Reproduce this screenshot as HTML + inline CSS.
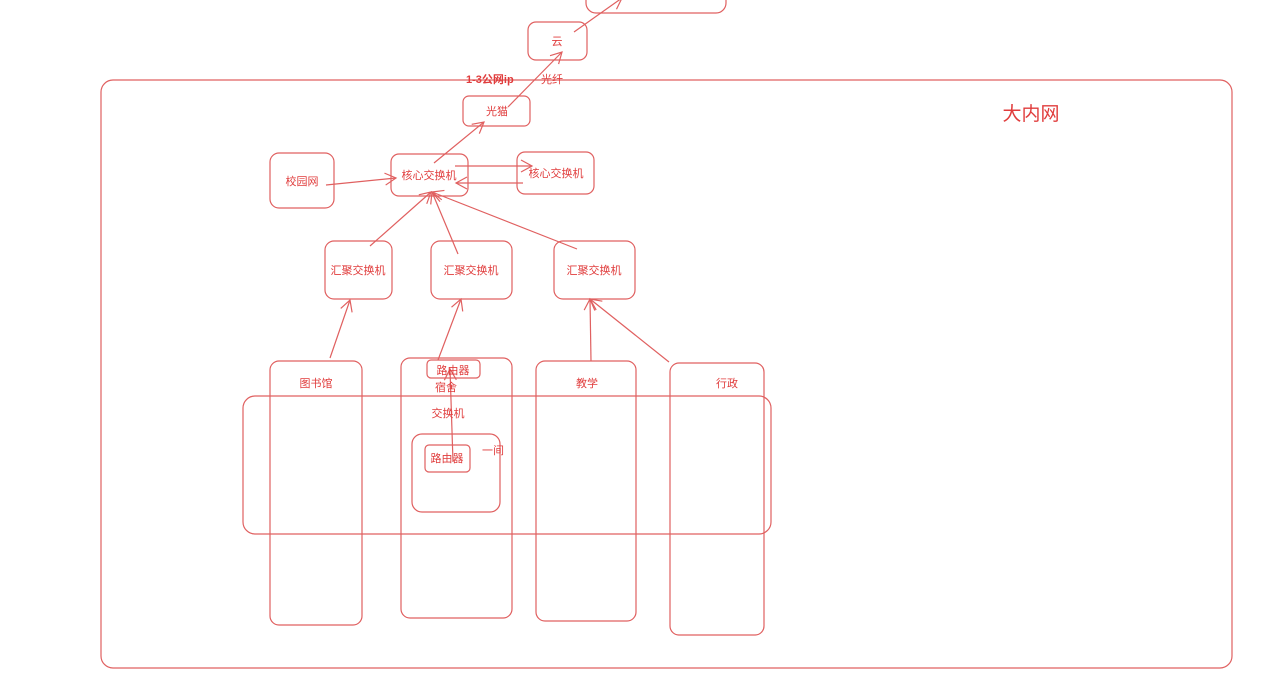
<!DOCTYPE html>
<html><head><meta charset="utf-8"><style>
html,body{margin:0;padding:0;background:#fff;width:1285px;height:696px;overflow:hidden}
text{font-family:"Liberation Sans","Noto Sans CJK SC",sans-serif;fill:#e03c3c}
</style></head><body>
<svg width="1285" height="696" viewBox="0 0 1285 696" xmlns="http://www.w3.org/2000/svg" font-size="11">
<defs>
<marker id="a" markerWidth="14" markerHeight="14" refX="12" refY="7" orient="auto" markerUnits="userSpaceOnUse">
<path d="M1,1 L12,7 L1,13" fill="none" stroke="#e06060" stroke-width="1.2"/>
</marker>
</defs>
<g fill="none" stroke="#e06060" stroke-width="1.2">
<rect x="586" y="-12" width="140" height="25" rx="10"/>
<rect x="528" y="22" width="59" height="38" rx="8"/>
<rect x="101" y="80" width="1131" height="588" rx="12"/>
<rect x="463" y="96" width="67" height="30" rx="6"/>
<rect x="270" y="153" width="64" height="55" rx="9"/>
<rect x="391" y="154" width="77" height="42" rx="8"/>
<rect x="517" y="152" width="77" height="42" rx="8"/>
<rect x="325" y="241" width="67" height="58" rx="9"/>
<rect x="431" y="241" width="81" height="58" rx="9"/>
<rect x="554" y="241" width="81" height="58" rx="9"/>
<rect x="270" y="361" width="92" height="264" rx="9"/>
<rect x="401" y="358" width="111" height="260" rx="9"/>
<rect x="536" y="361" width="100" height="260" rx="9"/>
<rect x="670" y="363" width="94" height="272" rx="9"/>
<rect x="243" y="396" width="528" height="138" rx="12"/>
<rect x="427" y="360" width="53" height="18" rx="4"/>
<rect x="412" y="434" width="88" height="78" rx="10"/>
<rect x="425" y="445" width="45" height="27" rx="4"/>
</g>
<g stroke="#e06060" stroke-width="1.2" marker-end="url(#a)">
<line x1="574" y1="32" x2="622" y2="-2"/>
<line x1="508" y1="107" x2="562" y2="52"/>
<line x1="434" y1="163" x2="484" y2="122"/>
<line x1="326" y1="185" x2="396" y2="178"/>
<line x1="455" y1="166" x2="532" y2="166"/>
<line x1="523" y1="183" x2="456" y2="183"/>
<line x1="370" y1="246" x2="431" y2="192"/>
<line x1="458" y1="254" x2="432" y2="192"/>
<line x1="577" y1="249" x2="432" y2="192"/>
<line x1="330" y1="358" x2="350" y2="300"/>
<line x1="438" y1="360" x2="461" y2="299"/>
<line x1="591" y1="361" x2="590" y2="299"/>
<line x1="669" y1="362" x2="590" y2="299"/>
<line x1="453" y1="462" x2="450" y2="369"/>
</g>
<text x="557" y="45" text-anchor="middle">云</text>
<text x="466" y="83" font-weight="bold">1-3公网ip</text>
<text x="541" y="83">光纤</text>
<text x="1031" y="120" text-anchor="middle" style="font-size:19px">大内网</text>
<text x="497" y="115" text-anchor="middle">光猫</text>
<text x="302" y="185" text-anchor="middle">校园网</text>
<text x="429" y="179" text-anchor="middle">核心交换机</text>
<text x="556" y="177" text-anchor="middle">核心交换机</text>
<text x="358" y="274" text-anchor="middle">汇聚交换机</text>
<text x="471" y="274" text-anchor="middle">汇聚交换机</text>
<text x="594" y="274" text-anchor="middle">汇聚交换机</text>
<text x="316" y="387" text-anchor="middle">图书馆</text>
<text x="446" y="391" text-anchor="middle">宿舍</text>
<text x="587" y="387" text-anchor="middle">教学</text>
<text x="727" y="387" text-anchor="middle">行政</text>
<text x="453" y="374" text-anchor="middle">路由器</text>
<text x="448" y="417" text-anchor="middle">交换机</text>
<text x="447" y="462" text-anchor="middle">路由器</text>
<text x="482" y="454">一间</text>
</svg>
</body></html>
